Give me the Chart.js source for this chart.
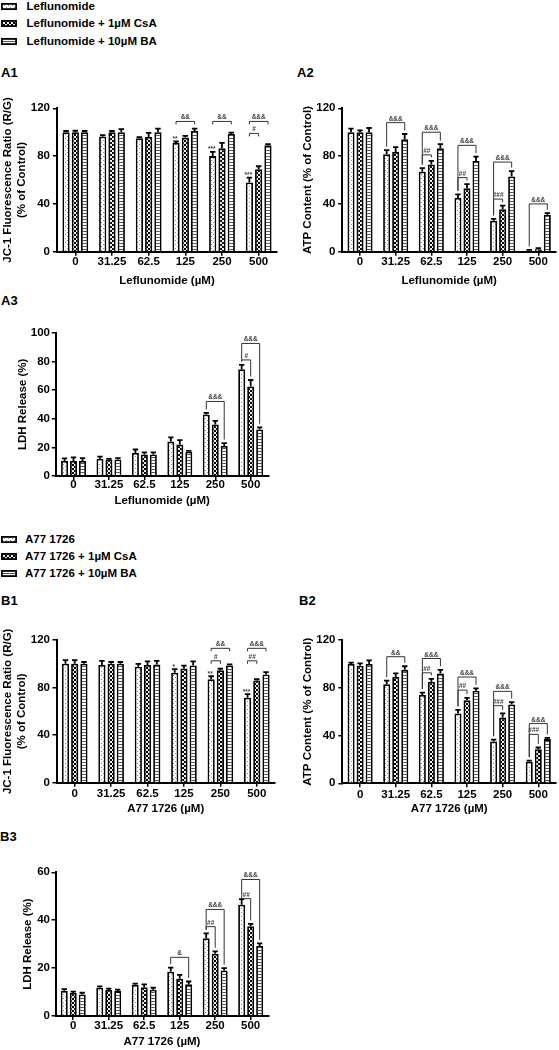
<!DOCTYPE html>
<html>
<head>
<meta charset="utf-8">
<script src="https://cdn.jsdelivr.net/npm/chart.js@4.4.0/dist/chart.umd.min.js"></script>
<style>
  body { margin: 0; background: #fff; }
  #page { position: relative; width: 559px; height: 1050px; overflow: hidden;
          font-family: "Liberation Sans", Arial, sans-serif; font-weight: bold; color: #000; }
  canvas.chart { position: absolute; }
  .tag { position: absolute; font-size: 13px; line-height: 14px; }
  .leg { position: absolute; font-size: 11.5px; line-height: 14px; white-space: nowrap; }
  .leg canvas { position: absolute; left: 1px; top: 4px; }
</style>
</head>
<body>
<div id="page"></div>
<script>
// ---- data ----
const doses = ['0', '31.25', '62.5', '125', '250', '500'];
const legendA = ['Leflunomide', 'Leflunomide + 1µM CsA', 'Leflunomide + 10µM BA'];
const legendB = ['A77 1726', 'A77 1726 + 1µM CsA', 'A77 1726 + 10µM BA'];

// A1 JC-1 ratio
const a1Lef = [100, 96.5, 95, 91, 80, 58];
const a1Csa = [100, 100, 96, 95.5, 86.5, 69];
const a1Ba  = [100, 100, 100, 101, 98.5, 89];
const a1LefErr = [1, 1, 0.8, 1.2, 3.5, 4];
const a1CsaErr = [1.2, 1, 3.5, 1.5, 4.5, 2.5];
const a1BaErr  = [1, 2.5, 3, 2, 1.2, 1];
const a1Stars = [[3, 0, '**'], [4, 0, '***'], [5, 0, '***']];
const a1Brackets = [[3, 0, 2, 109, '&&'], [4, 0, 2, 109, '&&'], [5, 0, 1, 99, '#'], [5, 0, 2, 109, '&&&']];

// A2 ATP content
const a2Lef = [100, 81.5, 67, 45, 26, 1];
const a2Csa = [100, 83.5, 73, 53, 35.5, 2];
const a2Ba  = [100, 94, 86.5, 76, 63, 31];
const a2LefErr = [3, 3.5, 3, 3, 1.5, 0.5];
const a2CsaErr = [1.5, 4, 3, 3.5, 3, 1];
const a2BaErr  = [3.5, 4.5, 3.5, 3.5, 4.5, 1.2];
const a2Brackets = [[1, 0, 2, 108, '&&&'], [2, 0, 2, 100, '&&&'], [2, 0, 1, 81, '##'],
  [3, 0, 2, 89, '&&&'], [3, 0, 1, 62, '##'], [4, 0, 2, 75, '&&&'], [4, 0, 1, 44, '###'], [5, 0, 2, 40, '&&&']];

// A3 LDH release
const a3Lef = [10.5, 12, 16, 24, 43, 74.5];
const a3Csa = [10.5, 11.5, 15, 22, 36, 62.5];
const a3Ba  = [10.5, 11.5, 15, 17, 21, 32.5];
const a3LefErr = [1.8, 1.5, 2.5, 3, 1, 3];
const a3CsaErr = [2.5, 0.5, 1.5, 3, 2.5, 4.5];
const a3BaErr  = [2, 1, 1.5, 0.5, 2, 1.5];
const a3Brackets = [[4, 0, 2, 52, '&&&'], [5, 0, 1, 81, '#'], [5, 0, 2, 92.5, '&&&']];

// B1 JC-1 ratio
const b1A77 = [100, 99, 97.5, 92.5, 87, 71.5];
const b1Csa = [100, 100, 99, 96, 94.5, 86];
const b1Ba  = [100, 100, 99.5, 98.5, 98.5, 91];
const b1A77Err = [3, 3.5, 2.5, 3, 2.5, 3];
const b1CsaErr = [3, 1.5, 3, 2.5, 1.5, 1];
const b1BaErr  = [1.5, 1.5, 3, 3.5, 1, 2];
const b1Stars = [[3, 0, '*'], [4, 0, '**'], [5, 0, '***']];
const b1Brackets = [[4, 0, 1, 102.5, '#'], [4, 0, 2, 113, '&&'], [5, 0, 1, 102.5, '##'], [5, 0, 2, 113, '&&&']];

// B2 ATP content
const b2A77 = [100, 83, 74, 58.5, 35, 18];
const b2Csa = [98.5, 89, 85, 69.5, 55, 28.5];
const b2Ba  = [100, 95, 92, 77.5, 66, 37];
const b2A77Err = [1, 3, 2, 3, 1.5, 1];
const b2CsaErr = [2, 3, 2.5, 2, 3.5, 1.5];
const b2BaErr  = [3, 3, 3, 2, 2, 1];
const b2Brackets = [[1, 0, 2, 106, '&&'], [2, 0, 2, 104.5, '&&&'], [2, 0, 1, 92.5, '##'],
  [3, 0, 2, 89, '&&&'], [3, 0, 1, 78, '##'], [4, 0, 2, 77, '&&&'], [4, 0, 1, 65, '###'],
  [5, 0, 2, 50, '&&&'], [5, 0, 1, 41, '###']];

// B3 LDH release
const b3A77 = [10.5, 11.8, 13, 18.5, 32.5, 46.5];
const b3Csa = [9.6, 10.9, 12, 15.6, 26, 37.5];
const b3Ba  = [9, 10.4, 11, 13.3, 19, 29.2];
const b3A77Err = [0.7, 0.6, 0.5, 1.7, 2, 2.3];
const b3CsaErr = [0.6, 0.5, 1.2, 1.6, 1, 1];
const b3BaErr  = [0.7, 0.6, 0.8, 1.1, 1, 1.1];
const b3Brackets = [[3, 0, 2, 24.5, '&'], [4, 0, 1, 37.3, '##'], [4, 0, 2, 44.5, '&&&'], [5, 0, 1, 49, '##'], [5, 0, 2, 57, '&&&']];

// ---- styling ----
Chart.defaults.font.family = '"Liberation Sans", Arial, sans-serif';
Chart.defaults.font.size = 11.5;
Chart.defaults.font.weight = 'bold';
Chart.defaults.color = '#000';

const page = document.getElementById('page');

function makeFill(kind) {
  const c = document.createElement('canvas');
  const g = c.getContext('2d');
  if (kind === 'dots') {
    c.width = 4; c.height = 4;
    g.fillStyle = '#fff'; g.fillRect(0, 0, 4, 4);
    g.fillStyle = '#8c8c8c'; g.fillRect(1, 0, 1, 1); g.fillRect(3, 2, 1, 1);
  } else if (kind === 'checks') {
    c.width = 4; c.height = 4;
    g.fillStyle = '#000'; g.fillRect(0, 0, 4, 4);
    g.fillStyle = '#eee'; g.fillRect(0, 0, 2, 2); g.fillRect(2, 2, 2, 2);
  } else {
    c.width = 3; c.height = 3;
    g.fillStyle = '#fff'; g.fillRect(0, 0, 3, 3);
    g.fillStyle = '#555'; g.fillRect(0, 0, 3, 1);
  }
  return g.createPattern(c, 'repeat');
}
const fills = [makeFill('dots'), makeFill('checks'), makeFill('stripes')];

function addLegend(names, rows, textX) {
  names.forEach((n, i) => {
    const d = document.createElement('div');
    d.className = 'leg';
    d.style.left = '0px';
    d.style.top = (rows[i] - 7) + 'px';
    const sw = document.createElement('canvas');
    sw.width = 16; sw.height = 7;
    const g = sw.getContext('2d');
    g.fillStyle = fills[i]; g.fillRect(0, 0, 16, 7);
    g.strokeStyle = '#000'; g.lineWidth = 1.8; g.strokeRect(0.9, 0.9, 14.2, 5.2);
    d.appendChild(sw);
    const t = document.createElement('span');
    t.textContent = n;
    t.style.marginLeft = textX + 'px';
    d.appendChild(t);
    page.appendChild(d);
  });
}
addLegend(legendA, [6, 23.3, 40.7], 26.5);
addLegend(legendB, [539, 556, 572.7], 25);

[['A1', 1, 73], ['A2', 297, 73], ['A3', 1, 300.5], ['B1', 1, 600.5], ['B2', 299, 600.5], ['B3', 0, 837.3]]
  .forEach(([s, x, y]) => {
    const d = document.createElement('div');
    d.className = 'tag'; d.textContent = s;
    d.style.left = x + 'px'; d.style.top = (y - 7) + 'px';
    page.appendChild(d);
  });

function marks(errs, stars, brackets, longLegs) {
  return {
    id: 'marks',
    afterDatasetsDraw(chart) {
      const { ctx } = chart;
      const y = chart.scales.y;
      const bar = (s, c) => chart.getDatasetMeta(s).data[c];
      const errTop = (s, c) => y.getPixelForValue(chart.data.datasets[s].data[c] + errs[s][c]);
      ctx.save();
      ctx.strokeStyle = '#000';
      ctx.lineWidth = 1.8;
      errs.forEach((e, s) => {
        chart.getDatasetMeta(s).data.forEach((b, c) => {
          const t = errTop(s, c);
          const hw = b.width * 0.38;
          ctx.beginPath();
          ctx.moveTo(b.x, b.y); ctx.lineTo(b.x, t);
          ctx.moveTo(b.x - hw, t); ctx.lineTo(b.x + hw, t);
          ctx.stroke();
        });
      });
      ctx.font = 'bold 6.5px "Liberation Sans", Arial, sans-serif';
      ctx.fillStyle = '#444';
      ctx.textAlign = 'center';
      ctx.textBaseline = 'alphabetic';
      stars.forEach(([c, s, txt]) => {
        ctx.fillText(txt, bar(s, c).x - 1, errTop(s, c) - 0.5);
      });
      ctx.strokeStyle = '#333';
      ctx.lineWidth = 1;
      brackets.forEach(([c, s1, s2, v, txt]) => {
        const xa = bar(s1, c).x, xb = bar(s2, c).x;
        const yl = y.getPixelForValue(v);
        const ya = longLegs ? errTop(s1, c) - 3.5 : yl + 3;
        const yb = longLegs ? errTop(s2, c) - 3.5 : yl + 3;
        ctx.beginPath();
        ctx.moveTo(xa, ya); ctx.lineTo(xa, yl); ctx.lineTo(xb, yl); ctx.lineTo(xb, yb);
        ctx.stroke();
        ctx.fillText(txt, (xa + xb) / 2, yl - 2);
      });
      ctx.restore();
    }
  };
}

function drawPanel(p, series, errs, stars, brackets) {
  const cv = document.createElement('canvas');
  const H = Math.round(p.xTitleY + 8 - p.top);
  cv.width = p.width; cv.height = H;
  cv.className = 'chart';
  cv.style.left = p.left + 'px'; cv.style.top = p.top + 'px';
  page.appendChild(cv);
  const [aL, aR, aT, aB] = p.area;
  const yW = aL - p.left;
  const xH = H - (aB - p.top);
  new Chart(cv, {
    type: 'bar',
    data: {
      labels: doses,
      datasets: series.map((d, i) => ({
        data: d,
        backgroundColor: fills[i],
        borderColor: '#000',
        borderWidth: 1.8,
        categoryPercentage: 0.76,
        barPercentage: 0.78
      }))
    },
    options: {
      responsive: false,
      animation: false,
      layout: { padding: { top: aT - p.top, left: 0, right: p.left + p.width - aR, bottom: 0 } },
      plugins: { legend: { display: false }, tooltip: { enabled: false } },
      scales: {
        x: {
          grid: { drawOnChartArea: false, offset: false, color: '#000', lineWidth: 1.5, tickLength: 4 },
          border: { color: '#000', width: 2 },
          ticks: { padding: p.xLabelY - aB - 4 - 7.4 },
          title: { display: true, text: p.xTitle, padding: { top: 0, bottom: 1.1 } },
          afterFit: s => { s.height = xH; }
        },
        y: {
          min: 0, max: p.yMax,
          ticks: { stepSize: p.yStep, padding: aL - 4 - p.yLabelRight },
          grid: { drawOnChartArea: false, color: '#000', lineWidth: 1.5, tickLength: 4 },
          border: { color: '#000', width: 2 },
          title: { display: true, text: p.yTitle, font: { lineHeight: 1.17 },
                   padding: { top: p.yTitleX - p.left - 6.7, bottom: 0 } },
          afterFit: s => { s.width = yW; }
        }
      }
    },
    plugins: [marks(errs, stars, brackets, p.longLegs)]
  });
}

const jcTitle = ['JC-1 Fluorescence Ratio (R/G)', '(% of Control)'];

drawPanel({ left: 0, top: 90, width: 280, area: [57, 277, 108.3, 251.7], yMax: 120, yStep: 40,
  yTitle: jcTitle, yTitleX: 8.3, yLabelRight: 50, xTitle: 'Leflunomide (µM)', xLabelY: 262.7, xTitleY: 280.5, longLegs: false },
  [a1Lef, a1Csa, a1Ba], [a1LefErr, a1CsaErr, a1BaErr], a1Stars, a1Brackets);

drawPanel({ left: 280, top: 90, width: 279, area: [342.2, 556.1, 108.3, 251.7], yMax: 120, yStep: 40,
  yTitle: 'ATP Content (% of Control)', yTitleX: 308.3, yLabelRight: 335.5, xTitle: 'Leflunomide (µM)', xLabelY: 262.7, xTitleY: 280.5, longLegs: true },
  [a2Lef, a2Csa, a2Ba], [a2LefErr, a2CsaErr, a2BaErr], [], a2Brackets);

drawPanel({ left: 0, top: 310, width: 280, area: [55.8, 268.4, 332.7, 476], yMax: 100, yStep: 20,
  yTitle: 'LDH Release (%)', yTitleX: 23, yLabelRight: 50, xTitle: 'Leflunomide (µM)', xLabelY: 485, xTitleY: 501, longLegs: true },
  [a3Lef, a3Csa, a3Ba], [a3LefErr, a3CsaErr, a3BaErr], [], a3Brackets);

drawPanel({ left: 0, top: 615, width: 280, area: [56.5, 275, 640, 782.7], yMax: 120, yStep: 40,
  yTitle: jcTitle, yTitleX: 8.3, yLabelRight: 50, xTitle: 'A77 1726 (µM)', xLabelY: 794, xTitleY: 809.3, longLegs: false },
  [b1A77, b1Csa, b1Ba], [b1A77Err, b1CsaErr, b1BaErr], b1Stars, b1Brackets);

drawPanel({ left: 280, top: 615, width: 279, area: [342.3, 556.1, 640, 783.3], yMax: 120, yStep: 40,
  yTitle: 'ATP Content (% of Control)', yTitleX: 308.3, yLabelRight: 335.5, xTitle: 'A77 1726 (µM)', xLabelY: 795, xTitleY: 809.3, longLegs: true },
  [b2A77, b2Csa, b2Ba], [b2A77Err, b2CsaErr, b2BaErr], [], b2Brackets);

drawPanel({ left: 0, top: 848, width: 280, area: [55.5, 268.4, 872.3, 1016], yMax: 60, yStep: 20,
  yTitle: 'LDH Release (%)', yTitleX: 28, yLabelRight: 50, xTitle: 'A77 1726 (µM)', xLabelY: 1026.7, xTitleY: 1041.7, longLegs: true },
  [b3A77, b3Csa, b3Ba], [b3A77Err, b3CsaErr, b3BaErr], [], b3Brackets);
</script>
</body>
</html>
